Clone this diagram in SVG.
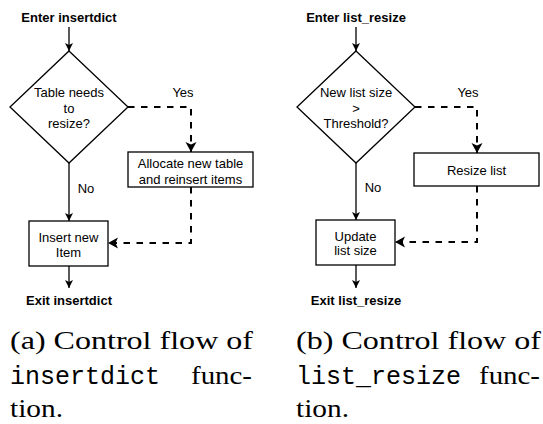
<svg xmlns="http://www.w3.org/2000/svg" width="543" height="424" viewBox="0 0 543 424">
<style>
.lbl{font-family:"Liberation Sans",Arial,sans-serif;font-size:13px;fill:#000;text-anchor:middle}
.b{font-weight:bold}
.shape{fill:#fff;stroke:#000;stroke-width:1.3}
.solid{fill:none;stroke:#000;stroke-width:1.3}
.dash{fill:none;stroke:#000;stroke-width:2;stroke-dasharray:6.5 6.5}
.cap{font-family:"Liberation Serif","Times New Roman",serif;font-size:26px;fill:#000}
.tt{font-family:"Liberation Mono","Courier New",monospace;font-size:25px;fill:#000}
</style>
<defs>
<marker id="ah" markerUnits="userSpaceOnUse" markerWidth="9" markerHeight="9" refX="8" refY="4" orient="auto">
<path d="M0,0 L8,4 L0,8 L2,4 Z" fill="#000"/>
</marker>
<marker id="ahd" markerUnits="userSpaceOnUse" markerWidth="12" markerHeight="12" refX="10" refY="5.5" orient="auto">
<path d="M0,0 L10,5.5 L0,11 L2.5,5.5 Z" fill="#000"/>
</marker>
</defs>

<g id="connectors">
<line class="solid" x1="69" y1="27" x2="69" y2="51" marker-end="url(#ah)"/>
<polyline class="dash" points="128,107 191,107 191,152" marker-end="url(#ahd)"/>
<line class="solid" x1="69" y1="163" x2="69" y2="221" marker-end="url(#ah)"/>
<polyline class="dash" points="191,187 191,243 108,243" marker-end="url(#ahd)"/>
<line class="solid" x1="69" y1="266" x2="69" y2="288" marker-end="url(#ah)"/>
<line class="solid" x1="356" y1="27" x2="356" y2="51" marker-end="url(#ah)"/>
<polyline class="dash" points="415,107 477,107 477,153" marker-end="url(#ahd)"/>
<line class="solid" x1="356" y1="163" x2="356" y2="220" marker-end="url(#ah)"/>
<polyline class="dash" points="477,186 477,242 395,242" marker-end="url(#ahd)"/>
<line class="solid" x1="356" y1="265" x2="356" y2="288" marker-end="url(#ah)"/>
<text class="lbl" x="183" y="97">Yes</text>
<text class="lbl" x="86" y="193">No</text>
<text class="lbl" x="468" y="97">Yes</text>
<text class="lbl" x="373" y="192">No</text>
</g>

<g id="enter-insertdict"><text class="lbl b" x="69" y="22">Enter insertdict</text></g>
<g id="table-needs-resize">
<polygon class="shape" points="69,51 128,107 69,163 10,107"/>
<text class="lbl" x="69" y="97">Table needs</text>
<text class="lbl" x="69" y="112.5">to</text>
<text class="lbl" x="69" y="128">resize?</text>
</g>
<g id="allocate">
<rect class="shape" x="128" y="152" width="125" height="35"/>
<text class="lbl" x="190.5" y="168">Allocate new table</text>
<text class="lbl" x="190.5" y="183.5">and reinsert items</text>
</g>
<g id="insert-item">
<rect class="shape" x="29" y="221" width="79" height="45"/>
<text class="lbl" x="68.5" y="241.5">Insert new</text>
<text class="lbl" x="68.5" y="257">Item</text>
</g>
<g id="exit-insertdict"><text class="lbl b" x="69" y="305">Exit insertdict</text></g>

<g id="enter-list-resize"><text class="lbl b" x="356" y="22">Enter list_resize</text></g>
<g id="new-list-size">
<polygon class="shape" points="356,51 415,107 356,163 297,107"/>
<text class="lbl" x="356" y="97">New list size</text>
<text class="lbl" x="356" y="112.5">&gt;</text>
<text class="lbl" x="356" y="128">Threshold?</text>
</g>
<g id="resize-list">
<rect class="shape" x="414" y="153" width="125" height="33"/>
<text class="lbl" x="476.5" y="175">Resize list</text>
</g>
<g id="update-size">
<rect class="shape" x="316" y="220" width="79" height="45"/>
<text class="lbl" x="355.5" y="240.5">Update</text>
<text class="lbl" x="355.5" y="255">list size</text>
</g>
<g id="exit-list-resize"><text class="lbl b" x="356" y="305">Exit list_resize</text></g>

<g id="caption-a">
<text class="cap" x="10" y="349" textLength="243" lengthAdjust="spacingAndGlyphs">(a) Control flow of</text>
<text class="tt" x="10" y="384">insertdict</text>
<text class="cap" x="191" y="384" textLength="61" lengthAdjust="spacingAndGlyphs">func-</text>
<text class="cap" x="10" y="417" textLength="53" lengthAdjust="spacingAndGlyphs">tion.</text>
</g>
<g id="caption-b">
<text class="cap" x="296" y="349" textLength="245" lengthAdjust="spacingAndGlyphs">(b) Control flow of</text>
<text class="tt" x="296" y="384">list_resize</text>
<text class="cap" x="479" y="384" textLength="61" lengthAdjust="spacingAndGlyphs">func-</text>
<text class="cap" x="296" y="417" textLength="53" lengthAdjust="spacingAndGlyphs">tion.</text>
</g>
</svg>
